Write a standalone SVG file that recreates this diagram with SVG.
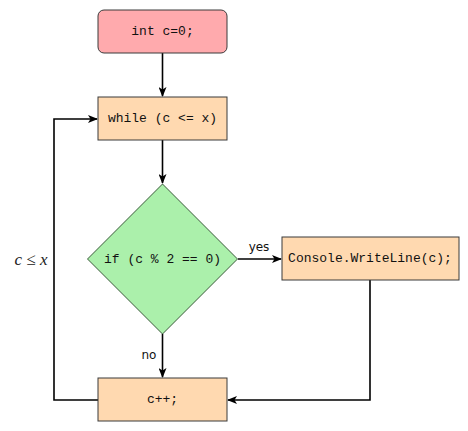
<svg xmlns="http://www.w3.org/2000/svg" width="468" height="431" viewBox="0 0 468 431">
<defs>
<marker id="ah" markerWidth="10" markerHeight="8" refX="9" refY="4" orient="auto" markerUnits="userSpaceOnUse">
<path d="M0,0 L10,4 L0,8 L2.5,4 Z" fill="#000"/>
</marker>
<style>
.box{stroke:#3a3a3a;stroke-width:1}
.start{fill:#ffaaad}
.proc{fill:#ffd9b0}
.dec{fill:#abf0ab;stroke:#3a5a3a;stroke-width:1}
.code{font-family:"Liberation Mono","DejaVu Sans Mono",monospace;font-size:13px;fill:#111;text-anchor:middle;dominant-baseline:central}
.lab{font-family:"DejaVu Sans","Liberation Sans",sans-serif;font-size:12px;fill:#111}
.conn{fill:none;stroke:#000;stroke-width:1.6}
</style>
</defs>
<rect width="468" height="431" fill="#fff"/>
<g id="connectors">
<line class="conn" x1="162.5" y1="53" x2="162.5" y2="96" marker-end="url(#ah)"/>
<line class="conn" x1="162.5" y1="140" x2="162.5" y2="183" marker-end="url(#ah)"/>
<line class="conn" x1="238" y1="259" x2="281" y2="259" marker-end="url(#ah)"/>
<line class="conn" x1="162.5" y1="334" x2="162.5" y2="377" marker-end="url(#ah)"/>
<polyline class="conn" points="370,280 370,400 228,400" marker-end="url(#ah)"/>
<polyline class="conn" points="98,400 54,400 54,119 97,119" marker-end="url(#ah)"/>
<text class="lab" x="259" y="251" text-anchor="middle">yes</text>
<text class="lab" x="149" y="359" text-anchor="middle">no</text>
<text x="31" y="265" text-anchor="middle" font-family="Liberation Serif,serif" font-size="17" fill="#222"><tspan font-style="italic">c</tspan> ≤ <tspan font-style="italic">x</tspan></text>
</g>
<g id="n-init">
<rect class="box start" x="98" y="10" width="129" height="43" rx="6"/>
<text class="code" x="162.5" y="31.5">int c=0;</text>
</g>
<g id="n-while">
<rect class="box proc" x="98" y="97" width="129" height="43"/>
<text class="code" x="162.5" y="118.5">while (c &lt;= x)</text>
</g>
<g id="n-if">
<polygon class="dec" points="162.5,184 237.5,259 162.5,334 87.5,259"/>
<text class="code" x="162.5" y="259">if (c % 2 == 0)</text>
</g>
<g id="n-write">
<rect class="box proc" x="282" y="237" width="177" height="43"/>
<text class="code" x="370" y="258.5">Console.WriteLine(c);</text>
</g>
<g id="n-inc">
<rect class="box proc" x="98" y="378" width="129" height="43"/>
<text class="code" x="162.5" y="399.5">c++;</text>
</g>
</svg>
